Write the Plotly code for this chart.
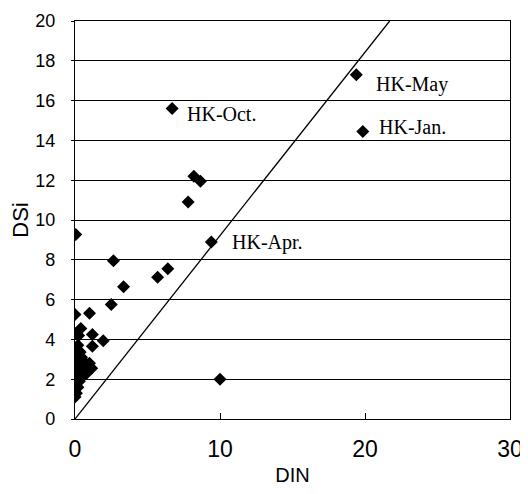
import plotly.graph_objects as go

# Scatter data: DIN (x) vs DSi (y)
din = [0.0, 0.1, 0.0, 0.2, 0.05, 0.3, 0.1, 0.0, 0.4, 0.2, 0.6, 0.05, 0.3, 0.8,
       0.15, 0.5, 0.0, 0.35, 0.1, 0.6, 0.25, 0.0, 0.45, 0.15, 0.3, 0.05, 0.2,
       1.0, 1.15, 0.8,
       0.35, 1.2, 1.95, 1.2, 0.0, 0.25, 0.4, 0.0, 1.0, 2.5, 3.35, 5.7, 6.4,
       2.65, 0.05, 9.4, 7.8, 8.2, 8.65, 6.7, 19.4, 19.85, 10.0]
dsi = [1.1, 1.3, 1.5, 1.6, 1.8, 1.9, 2.0, 2.1, 2.1, 2.2, 2.2, 2.4, 2.4, 2.3,
       2.6, 2.6, 2.7, 2.8, 2.9, 2.9, 3.0, 3.1, 3.1, 3.3, 3.4, 3.5, 3.7,
       2.8, 2.55, 2.35,
       3.35, 3.65, 3.93, 4.25, 4.3, 4.2, 4.55, 5.25, 5.32, 5.75, 6.65, 7.12, 7.55,
       7.95, 9.27, 8.9, 10.9, 12.2, 11.95, 15.6, 17.3, 14.45, 2.0]

# Reference line
line_x = [0, 21.7]
line_y = [0, 20]

# Labels
label_text = ["HK-May", "HK-Jan.", "HK-Oct.", "HK-Apr."]
label_x = [20.6, 20.8, 7.6, 10.7]
label_y = [16.8, 14.65, 15.35, 8.85]

x_ticks = [0, 10, 20, 30]
y_ticks = [0, 2, 4, 6, 8, 10, 12, 14, 16, 18, 20]

fig = go.Figure()
fig.add_trace(go.Scatter(x=line_x, y=line_y, mode="lines",
                         line=dict(color="black", width=1.3),
                         showlegend=False, hoverinfo="skip"))
fig.add_trace(go.Scatter(x=din, y=dsi, mode="markers",
                         marker=dict(symbol="diamond", size=10, color="black"),
                         showlegend=False))

for t, lx, ly in zip(label_text, label_x, label_y):
    fig.add_annotation(x=lx, y=ly, text=t, showarrow=False, xanchor="left",
                       yanchor="middle",
                       font=dict(family="Liberation Serif, Times New Roman, serif",
                                 size=20, color="black"))

# page body adds an 8px offset, so the figure is sized to fit the window
fig.update_layout(
    width=520, height=486,
    margin=dict(l=67, r=18, t=13, b=75),
    paper_bgcolor="white", plot_bgcolor="white",
    font=dict(family="Liberation Sans, Arial, sans-serif", color="black"),
)
fig.update_xaxes(range=[0, 30], tickvals=x_ticks, showgrid=False, zeroline=False,
                 showline=True, linecolor="black", linewidth=1.2, mirror=True,
                 ticks="inside", ticklen=6, tickcolor="black", automargin=False,
                 tickfont=dict(size=23), ticklabelstandoff=9,
                 title=dict(text="DIN", font=dict(size=20), standoff=7))
fig.update_yaxes(range=[0, 20], tickvals=y_ticks, showgrid=True, gridcolor="black",
                 gridwidth=1, zeroline=False, automargin=False,
                 showline=True, linecolor="black", linewidth=1.2, mirror=True,
                 ticks="outside", ticklen=3, tickcolor="black",
                 tickfont=dict(size=18), ticklabelstandoff=12,
                 title=dict(text="DSi", font=dict(size=22), standoff=1))

fig.write_html("out.html")
